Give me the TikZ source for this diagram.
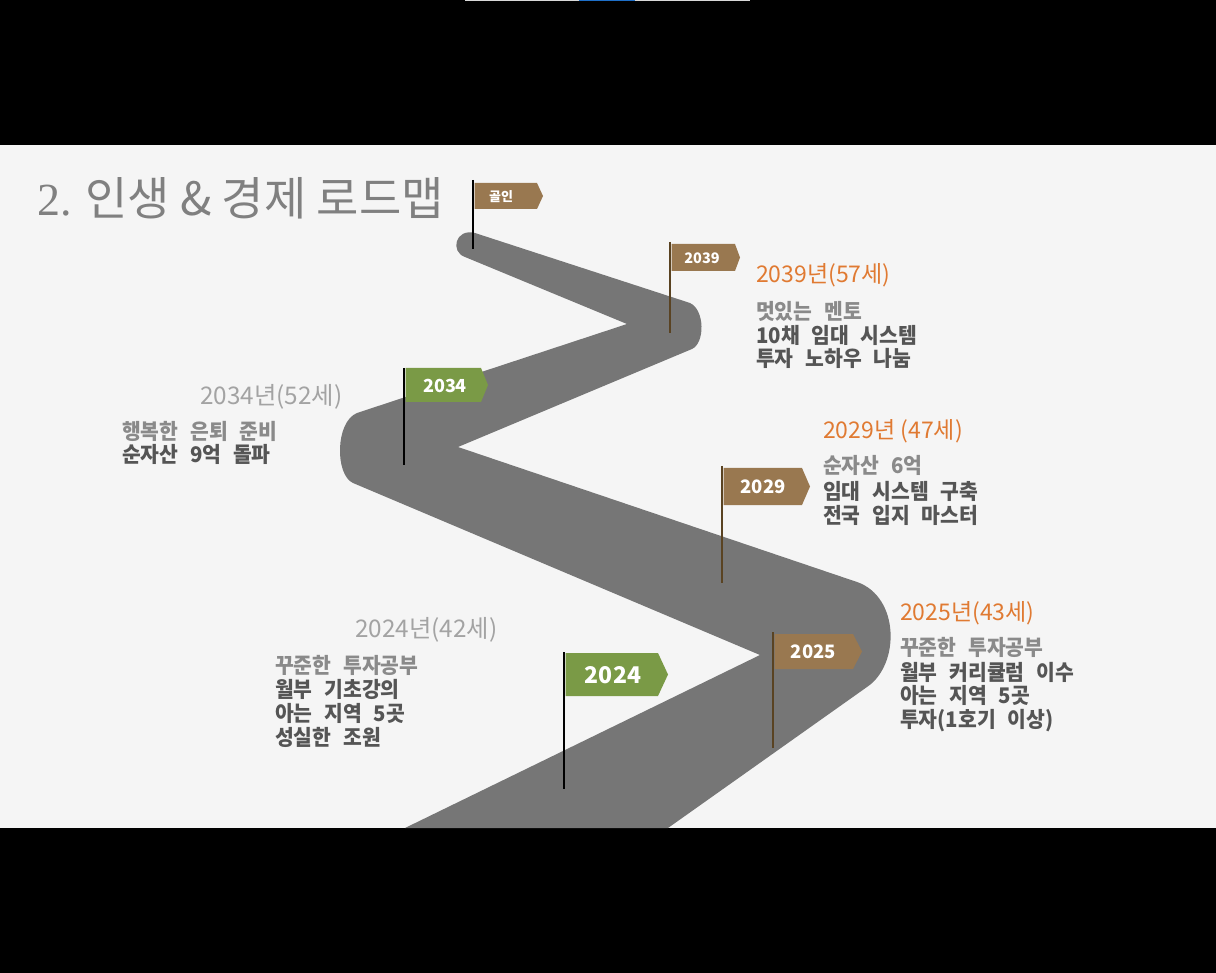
\documentclass[tikz,border=0pt]{standalone}
\usepackage{fontspec}
\setmainfont{Noto Sans CJK KR}
\newfontfamily\bodyfont{Noto Sans CJK KR}[FakeStretch=0.95,WordSpace=2.5]
\newfontfamily\serifnum{Liberation Serif}
\definecolor{slidebg}{HTML}{F5F5F5}
\definecolor{roadgray}{HTML}{767676}
\definecolor{flagbrown}{HTML}{997850}
\definecolor{flaggreen}{HTML}{7A9A46}
\definecolor{polebrown}{HTML}{5A4322}
\definecolor{yearorange}{HTML}{E07A32}
\definecolor{yeargray}{HTML}{A3A3A3}
\definecolor{lightline}{HTML}{8A8A8A}
\definecolor{darkline}{HTML}{555555}
\definecolor{titlegray}{HTML}{808080}
\definecolor{barblue}{HTML}{1E6FC8}
\definecolor{barlight}{HTML}{D8D8D8}
\tikzset{
  pole/.style={line width=2.6pt},
  flagtext/.style={text=white, inner sep=0pt, font=\bfseries},
  txt/.style={anchor=base west, inner sep=0pt},
  yearhead/.style={txt, text=yearorange, font=\fontsize{23}{26}\selectfont},
  yearheadgray/.style={txt, text=yeargray, font=\fontsize{24.3}{27}\selectfont},
  firstline/.style={txt, text=lightline, font=\bodyfont\fontsize{21.5}{24}\selectfont\bfseries},
  boldline/.style={txt, text=darkline, font=\bodyfont\fontsize{21.5}{24}\selectfont\bfseries}
}
\begin{document}
\begin{tikzpicture}[x=1pt,y=-1pt]
\useasboundingbox (0,0) rectangle (1216,973);
\fill[black] (0,0) rectangle (1216,973);
\fill[slidebg] (0,145) rectangle (1216,828);
% tiny bar at the very top
\fill[barlight] (465,0) rectangle (750,1.5);
\fill[barblue] (579,0) rectangle (635,1.5);

% road
\fill[roadgray] (405,828) -- (760,655) -- (353,483)
  .. controls (335,475) and (335,422) .. (357,413)
  -- (627,324) -- (465,257)
  .. controls (450,252) and (455,228) .. (475,233)
  -- (690,303)
  .. controls (705,310) and (705,343) .. (692,349)
  -- (458,447) -- (857,582)
  .. controls (900,597) and (900,665) .. (867,687)
  -- (668,828) -- cycle;

% title
\node[txt, text=titlegray, font=\fontsize{46}{50}\selectfont] (title) at (37,215.5) {{\serifnum 2.} 인생 \& 경제 로드맵};

% flag: goal
\coordinate (pgTop) at (473,180); \coordinate (pgBot) at (473,249);
\draw[pole, black] (pgTop) -- (pgBot);
\fill[flagbrown] (474.5,183) -- (537,183) -- (543,196) -- (537,209) -- (474.5,209) -- cycle;
\node[flagtext, font=\fontsize{13}{15}\selectfont\bfseries] (fgoal) at (501,196.5) {골인};

% flag 2039
\coordinate (p39Top) at (670,242); \coordinate (p39Bot) at (670,333);
\draw[pole, polebrown] (p39Top) -- (p39Bot);
\fill[flagbrown] (671.5,244) -- (735,244) -- (740,257.5) -- (735,271) -- (671.5,271) -- cycle;
\node[flagtext, font=\fontsize{14.5}{16}\selectfont\bfseries] (f39) at (702,258) {2039};

% flag 2034
\coordinate (p34Top) at (404,368); \coordinate (p34Bot) at (404,465);
\draw[pole, black] (p34Top) -- (p34Bot);
\fill[flaggreen] (405.5,368) -- (481,368) -- (488,385) -- (481,402) -- (405.5,402) -- cycle;
\node[flagtext, font=\fontsize{18}{20}\selectfont\bfseries] (f34) at (445,386) {2034};

% flag 2029
\coordinate (p29Top) at (722,466); \coordinate (p29Bot) at (722,583);
\draw[pole, polebrown] (p29Top) -- (p29Bot);
\fill[flagbrown] (723.5,468) -- (802,468) -- (810,486.5) -- (802,505) -- (723.5,505) -- cycle;
\node[flagtext, font=\fontsize{18.5}{20}\selectfont\bfseries] (f29) at (763,487) {2029};

% flag 2025
\coordinate (p25Top) at (773,632); \coordinate (p25Bot) at (773,748);
\draw[pole, polebrown] (p25Top) -- (p25Bot);
\fill[flagbrown] (774.5,634) -- (853,634) -- (862,651.5) -- (853,669) -- (774.5,669) -- cycle;
\node[flagtext, font=\fontsize{18.5}{20}\selectfont\bfseries] (f25) at (813.5,652) {2025};

% flag 2024
\coordinate (p24Top) at (564,652); \coordinate (p24Bot) at (564,789);
\draw[pole, black] (p24Top) -- (p24Bot);
\fill[flaggreen] (565.5,653) -- (658,653) -- (668,674.5) -- (658,696) -- (565.5,696) -- cycle;
\node[flagtext, font=\fontsize{23}{25}\selectfont\bfseries] (f24) at (613,675.5) {2024};

% 2039 text
\node[yearhead] (h39) at (756,283) {2039년(57세)};
\node[firstline] (t39a) at (756,320) {멋있는 멘토};
\node[boldline] (t39b) at (756,343.5) {10채 임대 시스템};
\node[boldline] (t39c) at (756,367) {투자 노하우 나눔};

% 2034 text
\node[yearheadgray] (h34) at (200,405) {2034년(52세)};
\node[firstline] (t34a) at (122,440) {행복한 은퇴 준비};
\node[boldline] (t34b) at (122,463) {순자산 9억 돌파};

% 2029 text
\node[yearhead] (h29) at (823,438.5) {2029년 (47세)};
\node[firstline] (t29a) at (823,474) {순자산 6억};
\node[boldline] (t29b) at (823,499) {임대 시스템 구축};
\node[boldline] (t29c) at (823,523) {전국 입지 마스터};

% 2025 text
\node[yearhead] (h25) at (900,620.5) {2025년(43세)};
\node[firstline] (t25a) at (900,655) {꾸준한 투자공부};
\node[boldline] (t25b) at (900,680) {월부 커리큘럼 이수};
\node[boldline] (t25c) at (900,703) {아는 지역 5곳};
\node[boldline] (t25d) at (900,727) {투자(1호기 이상)};

% 2024 text
\node[yearheadgray] (h24) at (355,637) {2024년(42세)};
\node[firstline] (t24a) at (275,673) {꾸준한 투자공부};
\node[boldline] (t24b) at (275,697) {월부 기초강의};
\node[boldline] (t24c) at (275,721) {아는 지역 5곳};
\node[boldline] (t24d) at (275,745) {성실한 조원};
\end{tikzpicture}
\end{document}
